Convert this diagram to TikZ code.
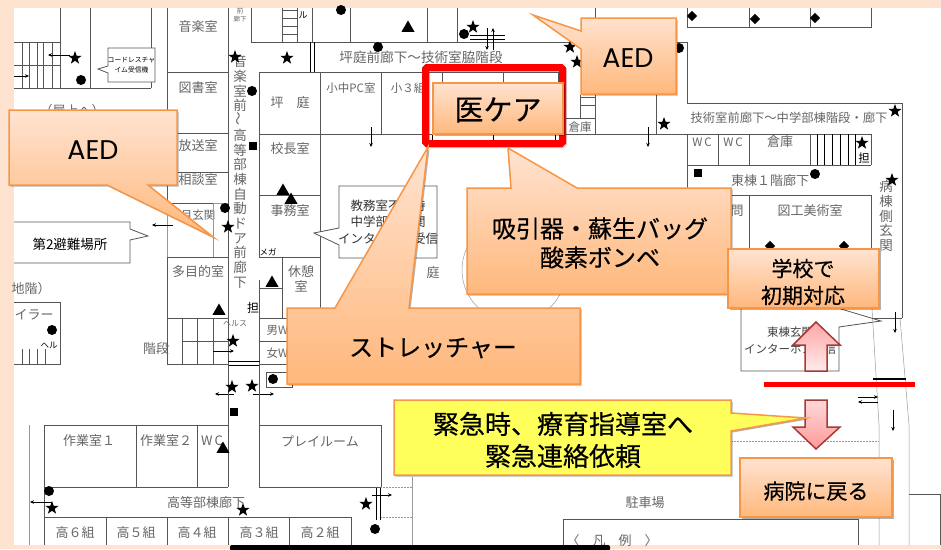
\documentclass[tikz,border=0pt]{standalone}
\usepackage{fontspec}
\setmainfont{Noto Sans CJK JP}
\newfontfamily\cjkb[FakeBold=0.4]{Noto Sans CJK JP}
\newfontfamily\latinb{Poppins}
\usetikzlibrary{shapes.geometric,shadows,arrows.meta}
\definecolor{peach}{HTML}{FFE3D1}
\definecolor{orlow}{HTML}{FFB87C}
\definecolor{planc}{HTML}{555555}
\definecolor{plant}{HTML}{666666}
\definecolor{orbd}{HTML}{F79646}
\definecolor{yfill}{HTML}{FFFF5C}
\tikzset{
  wall/.style={draw=planc,line width=0.8pt},
  thinwall/.style={draw=planc!60,line width=0.5pt},
  dotwall/.style={draw=planc!60,line width=0.5pt,densely dotted},
  blk/.style={draw=black,line width=0.9pt},
  arr/.style={draw=black,line width=0.9pt,-{Stealth[length=4pt,width=3.5pt]}},
  room/.style={text=plant,inner sep=0pt,font=\fontsize{13}{14}\selectfont},
  smallroom/.style={room,font=\fontsize{11.5}{13}\selectfont},
  vert/.style={room,align=center,font=\fontsize{13.5}{14.7}\selectfont},
  starm/.style={star,star points=5,star point ratio=2.5,fill=black,inner sep=0pt,minimum size=14pt},
  circm/.style={circle,fill=black,inner sep=0pt,minimum size=10pt},
  squarem/.style={rectangle,fill=black,inner sep=0pt,minimum size=8.5pt},
  trim/.style={regular polygon,regular polygon sides=3,fill=black,inner sep=0pt,minimum size=15pt},
  diam/.style={diamond,aspect=1,fill=black,inner sep=0pt,minimum size=10.5pt},
  ocall/.style={draw=orbd,line width=1.5pt,top color=peach,bottom color=orlow,
     drop shadow={shadow xshift=1.5pt,shadow yshift=-1.5pt,opacity=.3,fill=black}},
  ycall/.style={draw=orbd,line width=1.5pt,fill=yfill,
     drop shadow={shadow xshift=1.5pt,shadow yshift=-1.5pt,opacity=.3,fill=black}},
  ctext/.style={text=black,align=center,inner sep=0pt},
  pinkarrow/.style={draw=red!50!black!70!pink,line width=1.5pt},
}
\begin{document}
\begin{tikzpicture}[x=1pt,y=-1pt]
\useasboundingbox (0,0) rectangle (941,549);
\fill[peach] (0,0) rectangle (941,549);
\fill[white] (14,8) rectangle (941,545);
% ---- top left block
\draw[wall] (60,8) -- (60,42) -- (14,42);
\draw[wall] (90,8) -- (90,88) (151,8) -- (151,88) (14,88) -- (151,88);
\foreach \x in {22,29,37,43,52,60} \draw[wall] (\x,42) -- (\x,88);
\draw[wall] (14,65) -- (60,65);
\draw[arr] (70,55) -- (48,55);
\draw[arr] (14,76) -- (29,76);
\draw[wall,fill=white] (108,48) -- (155,48) -- (155,82) -- (108,82) -- (108,73) -- (98,69) -- (108,66) -- cycle;
\node[ctext,font=\fontsize{6.8}{9.5}\selectfont] (cordless) at (131.500,65) {コードレスチャ\\イム受信機};
\node[room] (okujo) at (72,111) {（屋上へ）};
% ---- music column
\draw[wall] (167,8) -- (167,203) (228,8) -- (228,318);
\foreach \y in {72,133,172,203} \draw[wall] (167,\y) -- (228,\y);
\node[room] (ongaku) at (198,27) {音楽室};
\node[room] (tosho) at (198,88) {図書室};
\node[room] (hoso) at (198,146) {放送室};
\node[room] (sodan) at (198,180) {相談室};
\node[smallroom] (genkan2) at (198,215) {月玄関};
\draw[thinwall] (167,203) -- (167,257) (213,203) -- (213,257) (213,203)--(228,203);
\draw[wall,fill=white] (14,222) -- (130,222) -- (130,229) -- (148,236) -- (130,240) -- (130,263) -- (14,263);
\node[ctext,font=\fontsize{13.5}{15}\selectfont] (hinan) at (70,244) {第2避難場所};
\draw[arr] (173,225) -- (152,225);
\draw[wall] (167,257) rectangle (228,318);
\node[room] (tamoku) at (198,272) {多目的室};
\draw[wall] (167,318) rectangle (228,364);
\foreach \x in {182,197,213} \draw[wall] (\x,318) -- (\x,364);
\draw[wall] (182,341) -- (228,341);
\node[room] (kaidan) at (156,349) {階段};
% ---- boiler
\draw[wall] (14,302) -- (60,302) -- (60,364) -- (14,364);
\foreach \x in {22,29,37,45} \draw[wall] (\x,349) -- (\x,364);
\node[room] (boiler) at (34,315) {イラー};
\node[room] (chikai) at (31,289) {地階）};
\node[ctext,font=\fontsize{8.500}{10}\selectfont] (heru1) at (49,345) {ヘル};
% ---- corridor text
\node[ctext,text=plant,font=\fontsize{6.5}{7.5}\selectfont] (zenro) at (240,15) {前\\廊下};
\node[vert] (oncorr) at (240,172) {音\\楽\\室\\前\\\rotatebox{90}{～}\\高\\等\\部\\棟\\自\\動\\ド\\ア\\前\\廊\\下};
% ---- top middle
\draw[wall] (251,8) -- (251,42) -- (312,42);
\draw[wall] (282,8) -- (282,42) (297,8) -- (297,42);
\foreach \y in {10,18,26,34} \draw[wall] (282,\y) -- (297,\y);
\node[ctext,font=\fontsize{9}{10}\selectfont] (ruu) at (303,15) {ル};
\draw[wall] (312,8) -- (312,42) (350,8) -- (350,42) (427,8) -- (427,42) (457,8) -- (457,42) (595,8) -- (595,42);
\draw[wall] (312,42) -- (687,42) -- (687,103) -- (902,103) -- (902,318);
\draw[blk] (310,42) -- (310,72) (314,42) -- (314,72);
\node[room,font=\fontsize{13.6}{15}\selectfont] (tsuboroka) at (421,57) {坪庭前廊下〜技術室脇階段};
\draw[blk] (470,35) -- (505,35) (470,39) -- (505,39);
\draw[arr] (487,28) -- (487,50);
\draw[arr] (493,50) -- (493,28);
% ---- rooms row
\draw[wall] (259,72) -- (563,72);
\draw[wall] (259,72) -- (259,257) (320,72) -- (320,308) (381,72) -- (381,134) (442,72) -- (442,134) (503,72) -- (503,134) (558,72) -- (558,134);
\draw[wall] (259,134) -- (320,134) (259,195) -- (320,195) (259,257) -- (320,257);
\draw[wall] (320,134) -- (595,134) (563,118) -- (595,118) (595,72)--(595,134) (563,118)--(563,134) (580,95)--(580,118);
\foreach \y in {97,105} \draw[wall] (580,\y) -- (595,\y);
\draw[wall] (595,134) -- (687,134);
\foreach \x in {432,493,555} \draw[blk] (\x,125) -- (\x,147);
\node[room] (tsubo) at (290,103) {坪　庭};
\node[room] (kocho) at (290,149) {校長室};
\node[room] (jimu) at (290,211) {事務室};
\node[ctext,font=\fontsize{8.500}{10}\selectfont] (mega) at (268,252) {メガ};
\node[smallroom] (shochu) at (351,88) {小中PC室};
\node[smallroom] (sho3) at (408,88) {小３組};
\node[smallroom] (soko1) at (580,127) {倉庫};
\draw[arr] (371,127) -- (371,147);
\draw[wall] (259,280) -- (259,365) (282,257) -- (282,318) (259,288) -- (282,288);
\draw[wall] (259,318) -- (320,318) (259,341) -- (320,341) (259,364) -- (320,364);
\node[room,align=center,font=\fontsize{13}{15}\selectfont] (kyukei) at (301,279) {休憩\\室};
\node[ctext,font=\fontsize{12}{13}\selectfont] (tan1) at (253,308) {担};
\node[smallroom] (otoko) at (281,330) {男WC};
\node[smallroom] (onna) at (281,353) {女WC};
\node[ctext,text=plant,font=\fontsize{8}{9}\selectfont] (herusu) at (235,324) {ヘルス};
\draw[arr] (213,351) -- (234,351);
\draw[blk] (228,361) -- (260,361) (228,365) -- (260,365);
\draw[wall] (266,372) rectangle (292,387);
\draw[arr] (234,394) -- (215,394);
\draw[arr] (253,394) -- (274,394);
% ---- kyomu box
\draw[wall,fill=white] (339,186) -- (437,186) -- (437,258) -- (339,258) -- (339,245) -- (314,233) -- (339,228) -- cycle;
\node[ctext,font=\fontsize{12.500}{16.500}\selectfont,text=black!80] (kyomu) at (388,222) {教務室不在時\\中学部棟玄関\\インターホン受信};
\node[room] (niwa) at (433,273) {庭};
\draw[thinwall] (514,270) circle (52);
% ---- right block
\draw[wall] (687,8) -- (687,27) -- (871,27) -- (871,8) (749,8) -- (749,27) (810,8) -- (810,27);
\draw[wall] (656,95) -- (656,134);
\draw[arr] (648,127) -- (648,147);
\node[smallroom,font=\fontsize{12.3}{13}\selectfont] (gijutsu) at (789,118) {技術室前廊下〜中学部棟階段・廊下};
\draw[wall] (687,134) -- (871,134) (871,134) -- (871,165) (687,165) -- (871,165) (687,134) -- (687,190);
\draw[wall] (718,134) -- (718,165) (749,134) -- (749,165) (810,134) -- (810,165);
\foreach \x in {817,824,832,840,848,855} \draw[blk,line width=.6pt] (\x,134) -- (\x,165);
\node[smallroom] (wc1) at (702,142) {W\,C};
\node[smallroom] (wc2) at (733,142) {W\,C};
\node[room] (soko2) at (780,142) {倉庫};
\node[ctext,font=\fontsize{11.500}{13}\selectfont] (tan2) at (864,158) {担};
\node[room] (higashi1) at (770,181) {東棟１階廊下};
\draw[wall] (730,195) -- (871,195) -- (871,250) (749,195) -- (749,250);
\node[room] (mon) at (737,211) {問};
\node[room] (zuko) at (810,211) {図工美術室};
\node[vert] (byoto) at (886,216) {病\\棟\\側\\玄\\関};
% ---- east entrance
\draw[wall,fill=white] (741,300) -- (841,300) -- (841,309) -- (881,321) -- (839,327) -- (839,371) -- (741,371) -- cycle;
\node[ctext,text=black!75,font=\fontsize{11.500}{17}\selectfont] (higenkan) at (790,341) {東棟玄関\\インターホン受信};
\draw[thinwall] (872,309) -- (879,425) -- (879,545);
\draw[thinwall] (900,318) -- (909,425) -- (909,545);
\draw[wall] (872,318) -- (902,318);
\draw[arr] (895,312) -- (895,333);
\draw[blk,line width=1.4pt] (873,379) -- (906,379);
\draw[arr] (858,397) -- (878,397);
\draw[arr] (878,402) -- (858,402);
\draw[arr] (893,410) -- (893,431);
\draw[dotwall] (732,441) -- (879,441);
\draw[wall] (909,494) -- (940,494) -- (940,545);
% ---- bottom block
\draw[wall] (44,425) -- (228,425) (259,425) -- (381,425) -- (381,487);
\draw[wall] (44,425) -- (44,545);
\draw[wall] (228,365) -- (228,487) (259,365) -- (259,487);
\draw[wall] (44,487) -- (228,487) (259,487) -- (381,487);
\draw[wall] (136,425) -- (136,487) (197,425) -- (197,487);
\draw[wall] (44,517) -- (351,517);
\foreach \x in {106,167,228,289,351} \draw[wall] (\x,517) -- (\x,545);
\draw[thinwall] (29,425) -- (29,545);
\node[room] (sagyo1) at (89,441) {作業室１};
\node[room] (sagyo2) at (166,441) {作業室２};
\node[room] (wc3) at (212,441) {W\,C};
\node[room] (play) at (320,441) {プレイルーム};
\node[room] (koto) at (206,503) {高等部棟廊下};
\foreach \x/\t/\n in {75/高６組/a,136/高５組/b,197/高４組/c,259/高３組/d,320/高２組/e}
  \node[room] (cls\n) at (\x,533) {\t};
\draw[arr] (52,502) -- (30,502);
\draw[blk] (376,488) -- (376,520) (380,488) -- (380,520);
\draw[arr] (372,495) -- (392,495);
\draw[dotwall] (381,487) -- (412,487) (381,517) -- (412,517);
\draw[thinwall] (412,477) -- (412,545);
\node[room] (chusha) at (645,503) {駐車場};
\draw[wall] (563,545) -- (563,519) -- (858,519) -- (858,545);
\node[room] (hanrei) at (612,541) {〈　凡　例　〉};
% ---- markers
\foreach \p [count=\i] in {(75,58),(235,57),(287,58),(228,227),(473,27),(570,47),(577,62),(664,124),(895,111),(862,143),(892,180),(233,341),(232,387),(252,386),(52,508),(243,510),(366,504)}
  \node[starm] (st\i) at \p {};
\foreach \p [count=\i] in {(81,80),(252,91),(225,208),(341,10),(378,47),(464,34),(679,48),(815,174),(52,330),(273,379),(49,491),(375,529)}
  \node[circm] (ci\i) at \p {};
\foreach \p [count=\i] in {(253,146),(234,412),(698,173)}
  \node[squarem] (sq\i) at \p {};
\foreach \p [count=\i] in {(283,191),(291,200),(408,28),(272,283),(219,311),(223,449)}
  \node[trim] (tr\i) at \p {};
\foreach \p [count=\i] in {(692,16),(755,19),(815,18),(770,246),(844,246)}
  \node[diam] (di\i) at \p {};
% ---- callouts
\draw[ocall] (9,110) -- (177,110) -- (177,185) -- (148,185) -- (213,237) -- (107,185) -- (9,185) -- cycle;
\node[ctext,font=\latinb\fontsize{27}{30}\selectfont] (aedleft) at (93,150) {AED};
\draw[ocall] (581,18) -- (676,18) -- (676,94) -- (581,94) -- (581,49) -- (533,15) -- (581,31) -- cycle;
\node[ctext,font=\latinb\fontsize{27}{30}\selectfont] (aedright) at (628,58) {AED};
\draw[draw=black,opacity=.2,line width=7pt,rounded corners=1.5pt] (426.500,68.500) rectangle (563.500,144.500);
\draw[draw=red,line width=7pt,rounded corners=1.5pt] (425.500,67.500) rectangle (562.500,143.500);
\draw[ocall] (287,308) -- (335,308) -- (428,147) -- (409,308) -- (580,308) -- (580,384) -- (287,384) -- cycle;
\node[ctext,font=\cjkb\fontsize{24}{28}\selectfont] (stretcher) at (433,348) {ストレッチャー};
\draw[ocall] (467,188) -- (511,188) -- (508,148) -- (577,188) -- (731,188) -- (731,294) -- (467,294) -- cycle;
\node[ctext,font=\cjkb\fontsize{24}{29}\selectfont] (suction) at (600,243) {吸引器・蘇生バッグ\\酸素ボンベ};
\draw[ocall] (433,83) rectangle (563,134);
\node[ctext,font=\cjkb\fontsize{29}{32}\selectfont] (medcare) at (498,110) {医ケア};
\draw[ocall] (728,249) rectangle (879,308);
\node[ctext,font=\cjkb\fontsize{21}{27}\selectfont] (school) at (803,282) {学校で\\初期対応};
\draw[pinkarrow,top color=red!35!white,bottom color=red!8!white] (816,322) -- (840,345) -- (827,345) -- (827,371) -- (805,371) -- (805,345) -- (793,345) -- cycle;
\draw[draw=none,fill=red] (764,381.500) rectangle (915,387);
\draw[pinkarrow,top color=red!15!white,bottom color=red!40!white] (805,400) -- (827,400) -- (827,427) -- (840,427) -- (816,449) -- (793,427) -- (805,427) -- cycle;
\draw[ycall] (394,400) -- (731,400) -- (731,413) -- (806,418) -- (731,431) -- (731,475) -- (394,475) -- cycle;
\node[ctext,font=\cjkb\fontsize{26}{32}\selectfont] (kinkyu) at (563,440) {緊急時、療育指導室へ\\緊急連絡依頼};
\draw[ocall] (740,458) rectangle (892,517);
\node[ctext,font=\cjkb\fontsize{21}{25}\selectfont] (byoin) at (816,491) {病院に戻る};
% ---- bottom bar
\fill[black,rounded corners=2pt] (230,545) rectangle (610,551);
\end{tikzpicture}
\end{document}
